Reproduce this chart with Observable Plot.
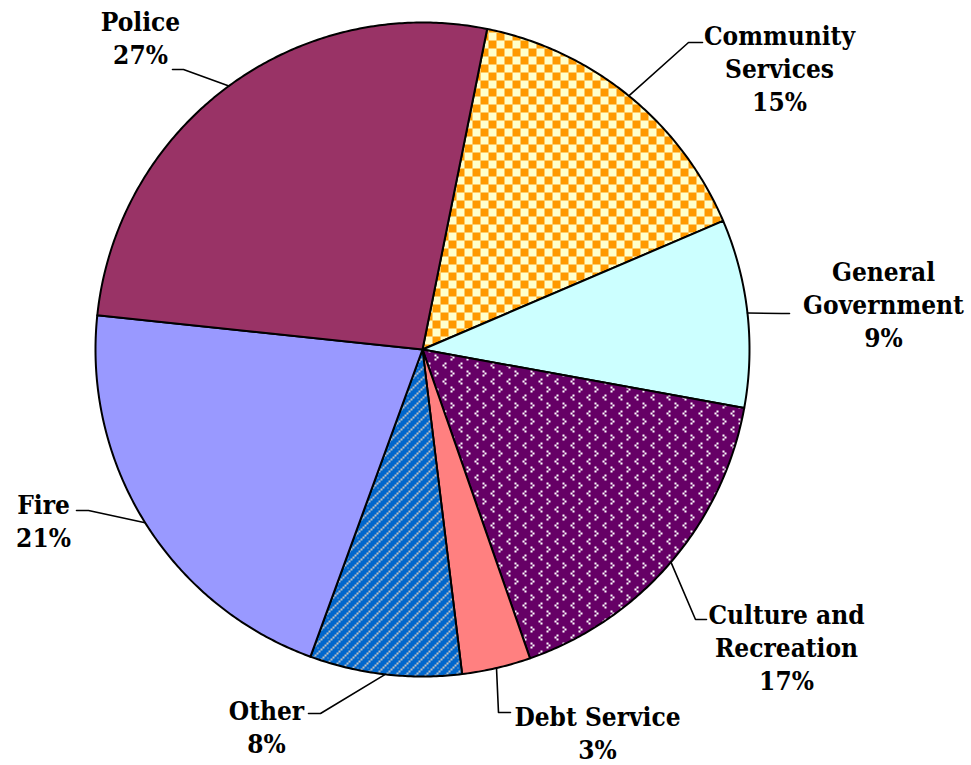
<!DOCTYPE html>
<html><head><meta charset="utf-8">
<script src="https://cdn.jsdelivr.net/npm/d3@7"></script>
<script src="https://cdn.jsdelivr.net/npm/@observablehq/plot@0.6"></script>
<style>
body{margin:0;background:#fff}
#chart svg text { font-stretch: condensed; }
</style>
</head><body><div id="chart"></div>
<script>
// ---- data ----
const categories = ["Community Services","General Government","Culture and Recreation","Debt Service","Other","Fire","Police"];
const labelNames = ["Community\nServices","General\nGovernment","Culture and\nRecreation","Debt Service","Other","Fire","Police"];
const shares = [15.4, 9.3, 16.8, 3.4, 7.5, 21.1, 26.5];
const fills = ["url(#checker)","#CCFFFF","url(#dots)","#FF8080","url(#lattice)","#9999FF","#993366"];
const startAngleDeg = 11.4;

// ---- layout (pixels) ----
const W = 971, H = 765, CX = 422, CY = 349, R = 327;
const labelAnchor = [[779,67],[883,303],[786,646],[597,731],[266,725],[43,519],[140,36]];
const leaderElbow = [[688,42],[781,313],[695,619],[498,712],[320,713],[88,510],[183,69]];
const leaderEnd   = [[702,42],[789,313],[706,619],[510,712],[308,713],[76,510],[172,69]];
const ux = px => (px - CX) / R, uy = py => (CY - py) / R;

// ---- derived geometry (from data) ----
const total = d3.sum(shares);
let cum = 0;
const slices = categories.map((c, i) => {
  const a0 = startAngleDeg + cum / total * 360;
  cum += shares[i];
  const a1 = startAngleDeg + cum / total * 360;
  return {name: c, i, a0, a1, mid: (a0 + a1) / 2, fill: fills[i],
          label: labelNames[i] + "\n" + Math.round(shares[i]) + "%"};
});
const rad = a => a * Math.PI / 180;
const slicePts = [];
for (const s of slices) {
  slicePts.push({name: s.name, fill: s.fill, x: 0, y: 0});
  const n = Math.max(2, Math.ceil((s.a1 - s.a0) / 0.5));
  for (let k = 0; k <= n; k++) {
    const a = rad(s.a0 + (s.a1 - s.a0) * k / n);
    slicePts.push({name: s.name, fill: s.fill, x: Math.sin(a), y: Math.cos(a)});
  }
}
const leaderPts = [];
for (const s of slices) {
  const a = rad(s.mid);
  leaderPts.push({name: s.name, x: Math.sin(a), y: Math.cos(a)});
  leaderPts.push({name: s.name, x: ux(leaderElbow[s.i][0]), y: uy(leaderElbow[s.i][1])});
  leaderPts.push({name: s.name, x: ux(leaderEnd[s.i][0]), y: uy(leaderEnd[s.i][1])});
}
const labels = slices.map(s => ({text: s.label, x: ux(labelAnchor[s.i][0]), y: uy(labelAnchor[s.i][1])}));

const chart = Plot.plot({
  width: W, height: H, margin: 0,
  x: {domain: [-1, 1], range: [CX - R, CX + R], axis: null},
  y: {domain: [-1, 1], range: [CY + R, CY - R], axis: null},
  color: {type: "identity"},
  style: {background: "#fff"},
  marks: [
    Plot.line(slicePts, {x: "x", y: "y", z: "name", fill: "fill", stroke: "#000", strokeWidth: 2, curve: "linear-closed", strokeLinejoin: "round"}),
    Plot.line(leaderPts, {x: "x", y: "y", z: "name", stroke: "#000", strokeWidth: 1.6}),
    Plot.text(labels, {x: "x", y: "y", text: "text", fontSize: 26, fontWeight: "bold", fontFamily: "'DejaVu Serif Condensed', 'DejaVu Serif'", fill: "#000", lineHeight: 1.28, textAnchor: "middle", lineAnchor: "middle"})
  ]
});

// patterns
const defs = d3.select(chart).insert("defs", ":first-child");
const checker = defs.append("pattern").attr("id", "checker").attr("patternUnits", "userSpaceOnUse").attr("width", 16).attr("height", 16);
checker.append("rect").attr("width", 16).attr("height", 16).attr("fill", "#FFFFCC");
checker.append("rect").attr("width", 8).attr("height", 8).attr("fill", "#FF9900");
checker.append("rect").attr("x", 8).attr("y", 8).attr("width", 8).attr("height", 8).attr("fill", "#FF9900");

const dots = defs.append("pattern").attr("id", "dots").attr("patternUnits", "userSpaceOnUse").attr("width", 16).attr("height", 16);
dots.append("rect").attr("width", 16).attr("height", 16).attr("fill", "#660066");
[[2,2],[4,4],[2,6],[12,10],[10,12],[12,14]].forEach(([x, y]) =>
  dots.append("rect").attr("x", x).attr("y", y).attr("width", 2).attr("height", 2).attr("fill", "#fff"));

const lat = defs.append("pattern").attr("id", "lattice").attr("patternUnits", "userSpaceOnUse").attr("width", 10).attr("height", 10);
lat.append("rect").attr("width", 10).attr("height", 10).attr("fill", "#0066CC");
for (let k = 0; k < 5; k++) {
  lat.append("rect").attr("x", 2 * k).attr("y", 8 - 2 * k).attr("width", 2).attr("height", 2).attr("fill", "#C0C0C0");
}
[[5,5],[7,7]].forEach(([x, y]) => lat.append("rect").attr("x", x).attr("y", y).attr("width", 1).attr("height", 1).attr("fill", "#C0C0C0"));
defs.selectAll("rect").attr("shape-rendering", "crispEdges");

document.getElementById("chart").appendChild(chart);
</script>
</body></html>
